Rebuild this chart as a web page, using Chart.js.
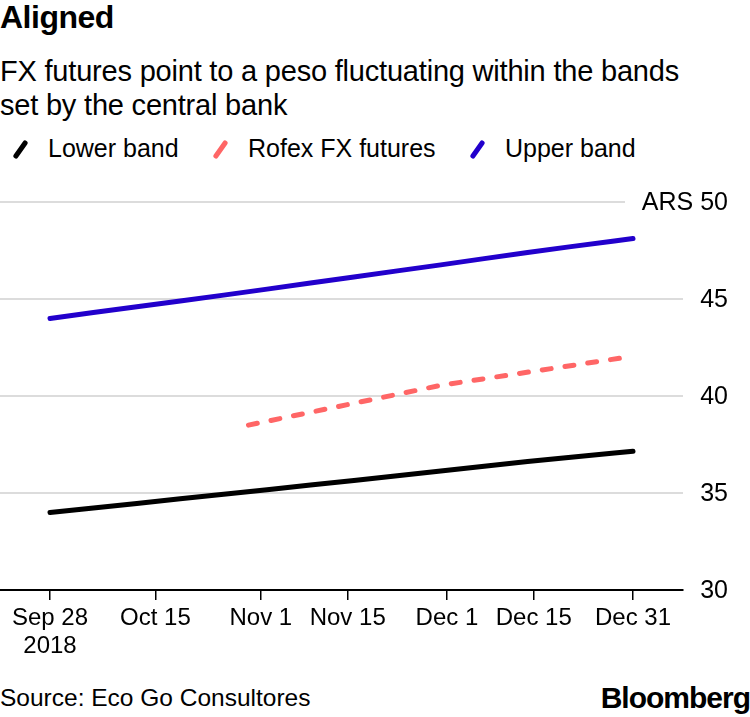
<!DOCTYPE html>
<html>
<head>
<meta charset="utf-8">
<script src="https://cdn.jsdelivr.net/npm/chart.js@4.4.1/dist/chart.umd.min.js"></script>
<style>
html, body { margin: 0; padding: 0; background: #fff; }
body { width: 750px; height: 717px; position: relative; overflow: hidden; font-family: "Liberation Sans", Arial, sans-serif; color: #000; }
#title { position: absolute; left: 0; top: -1px; font-size: 32px; font-weight: bold; letter-spacing: -0.5px; }
#subtitle { position: absolute; left: 0; top: 54px; font-size: 29px; line-height: 34px; letter-spacing: -0.2px; }
#legend { position: absolute; left: 0; top: 134px; height: 30px; width: 750px; font-size: 25px; }
.item { position: absolute; top: 0; white-space: nowrap; }
.swatch { position: absolute; top: 5px; width: 5px; height: 21px; border-radius: 3px; transform: rotate(35deg); }
#wrap { position: absolute; left: 0; top: 180px; width: 750px; height: 490px; }
#source { position: absolute; left: 0; top: 684px; font-size: 24.5px; }
#brand { position: absolute; right: 0; top: 681px; font-size: 30px; font-weight: bold; letter-spacing: -1px; }
</style>
</head>
<body>
<div id="title">Aligned</div>
<div id="subtitle">FX futures point to a peso fluctuating within the bands<br>set by the central bank</div>
<div id="legend">
  <div class="item" style="left:14px"><span class="swatch" style="left:4px;background:#000"></span><span style="margin-left:34px">Lower band</span></div>
  <div class="item" style="left:214px"><span class="swatch" style="left:4px;background:#ff6666"></span><span style="margin-left:34px">Rofex FX futures</span></div>
  <div class="item" style="left:471px"><span class="swatch" style="left:4px;background:#2200cc"></span><span style="margin-left:34px">Upper band</span></div>
</div>
<div id="wrap"><canvas id="chart"></canvas></div>
<div id="source">Source: Eco Go Consultores</div>
<div id="brand">Bloomberg</div>

<script>
// values (ARS per USD)
const bandDates = ['2018-09-28', '2018-10-05', '2018-10-12', '2018-10-19', '2018-10-26', '2018-11-02',
    '2018-11-09', '2018-11-16', '2018-11-23', '2018-11-30', '2018-12-07', '2018-12-14', '2018-12-21',
    '2018-12-28', '2018-12-31'];
const lowerBand = [34.00, 34.23, 34.46, 34.70, 34.93, 35.17, 35.41, 35.65, 35.89, 36.13, 36.38, 36.62, 36.84, 37.06, 37.15];
const upperBand = [44.00, 44.30, 44.60, 44.90, 45.20, 45.51, 45.82, 46.13, 46.45, 46.76, 47.08, 47.40, 47.70, 47.99, 48.12];

const futuresDates = ['2018-10-30', '2018-11-30', '2018-12-31'];
const rofexFutures = [38.50, 40.55, 42.05];

const tickDates = ['2018-09-28', '2018-10-15', '2018-11-01', '2018-11-15', '2018-12-01', '2018-12-15', '2018-12-31'];
const tickLabels = [['Sep 28', '2018'], 'Oct 15', 'Nov 1', 'Nov 15', 'Dec 1', 'Dec 15', 'Dec 31'];
const yTicks = [30, 35, 40, 45, 50];

const FONT = '"Liberation Sans", Arial, sans-serif';
const origin = Date.parse('2018-09-28');
const dayOf = (s) => (Date.parse(s) - origin) / 86400000;
const toPoints = (dates, values) => dates.map((d, i) => ({ x: dayOf(d), y: values[i] }));

// light gridlines plus right-aligned value labels; the top line stops short of "ARS 50"
const gridPlugin = {
    id: 'gridLines',
    beforeDatasetsDraw(chart) {
        const { ctx, chartArea, scales } = chart;
        ctx.save();
        ctx.strokeStyle = '#dcdcdc';
        ctx.lineWidth = 2;
        yTicks.forEach((v) => {
            if (v === 30) return;
            const y = Math.round(scales.y.getPixelForValue(v));
            const right = v === 50 ? chartArea.right - 58 : chartArea.right;
            ctx.beginPath();
            ctx.moveTo(chartArea.left, y);
            ctx.lineTo(right, y);
            ctx.stroke();
        });
        ctx.restore();
    },
    afterDraw(chart) {
        const { ctx, scales } = chart;
        ctx.save();
        ctx.fillStyle = '#000';
        ctx.font = '25px ' + FONT;
        ctx.textAlign = 'right';
        ctx.textBaseline = 'middle';
        yTicks.forEach((v) => {
            const y = scales.y.getPixelForValue(v) + 1;
            ctx.fillText(v === 50 ? 'ARS 50' : String(v), scales.y.right, y);
        });
        ctx.restore();
    },
};

const lineStyle = {
    borderWidth: 5,
    pointRadius: 0,
    borderCapStyle: 'round',
    borderJoinStyle: 'round',
    tension: 0,
    fill: false,
};

new Chart(document.getElementById('chart'), {
    type: 'line',
    data: {
        datasets: [
            { ...lineStyle, label: 'Upper band', data: toPoints(bandDates, upperBand), borderColor: '#2200cc' },
            { ...lineStyle, label: 'Rofex FX futures', data: toPoints(futuresDates, rofexFutures), borderColor: '#ff6666', borderDash: [9, 14] },
            { ...lineStyle, label: 'Lower band', data: toPoints(bandDates, lowerBand), borderColor: '#000000' },
        ],
    },
    plugins: [gridPlugin],
    options: {
        responsive: true,
        maintainAspectRatio: false,
        animation: false,
        layout: { padding: { top: 22, right: 22, left: 0, bottom: 0 } },
        plugins: { legend: { display: false }, tooltip: { enabled: false } },
        scales: {
            x: {
                type: 'linear',
                min: -8.06,
                max: 102.06,
                afterBuildTicks: (scale) => { scale.ticks = tickDates.map((d) => ({ value: dayOf(d) })); },
                afterFit: (scale) => { scale.height = 80; },
                border: { display: true, color: '#000', width: 2 },
                grid: { drawOnChartArea: false, drawTicks: true, tickLength: 10, color: '#000', lineWidth: 1.5 },
                ticks: {
                    autoSkip: false,
                    maxRotation: 0,
                    padding: 5,
                    color: '#000',
                    font: { family: FONT, size: 24, lineHeight: 1.15 },
                    callback: (value, index) => tickLabels[index],
                },
            },
            y: {
                position: 'right',
                min: 30,
                max: 50,
                afterBuildTicks: (scale) => { scale.ticks = yTicks.map((v) => ({ value: v })); },
                afterFit: (scale) => { scale.width = 45; },
                border: { display: false },
                grid: { display: false },
                ticks: { display: false },
            },
        },
    },
});
</script>
</body>
</html>
